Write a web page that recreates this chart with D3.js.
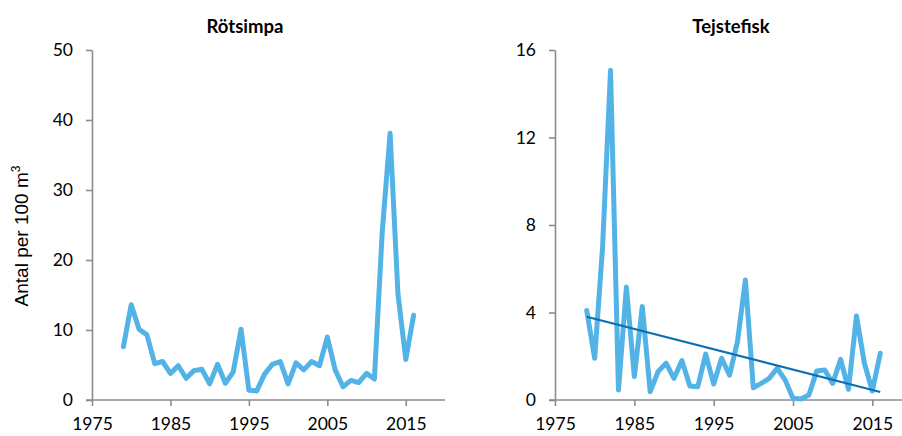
<!DOCTYPE html>
<html>
<head>
<meta charset="utf-8">
<script src="https://cdn.jsdelivr.net/npm/d3@7"></script>
<style>
  html, body { margin: 0; padding: 0; background: #fff; }
  svg { display: block; }
  .tick text { font-family: Lato, "Open Sans", sans-serif; font-size: 17.5px; fill: #000; }
  .title { font-family: Lato, "Open Sans", sans-serif; font-size: 18.5px; font-weight: bold; }
</style>
</head>
<body>
<svg id="chart" width="902" height="436"></svg>
<script>
// Survey years
const years = d3.range(1979, 2017);

// Rötsimpa, individuals per 100 m³
const rotsimpa = [7.6, 13.6, 10.1, 9.3, 5.2, 5.5, 3.8, 4.9, 3.1, 4.2,
  4.4, 2.3, 5.1, 2.4, 4.0, 10.1, 1.4, 1.3, 3.7, 5.1,
  5.5, 2.3, 5.3, 4.3, 5.5, 4.9, 9.0, 4.3, 1.9, 2.8,
  2.5, 3.8, 3.0, 24.0, 38.1, 15.2, 5.8, 12.1];

// Tejstefisk, individuals per 100 m³
const tejstefisk = [4.09, 1.91, 7.0, 15.07, 0.46, 5.16, 1.07, 4.27, 0.38, 1.30,
  1.68, 0.99, 1.80, 0.64, 0.61, 2.1, 0.73, 1.91, 1.14, 2.67,
  5.49, 0.56, 0.76, 0.99, 1.45, 0.92, 0.08, 0.05, 0.23, 1.33,
  1.37, 0.76, 1.86, 0.49, 3.84, 1.68, 0.41, 2.14];

// Axis ticks
const xTicks = [1975, 1985, 1995, 2005, 2015];
const yTicksRot = [0, 10, 20, 30, 40, 50];
const yTicksTej = [0, 4, 8, 12, 16];

const svg = d3.select("#chart");
const lineColor = "#53b3e7";
const trendColor = "#0a6fb2";
const axisColor = "#8c8c8c";

function drawPanel(opts) {
  const x = d3.scaleLinear().domain([1975, 2020]).range([opts.left, opts.right]);
  const y = d3.scaleLinear().domain([0, opts.yMax]).range([400, 50]);
  const g = svg.append("g");

  const xAxis = g.append("g")
    .attr("transform", "translate(0,400)")
    .call(d3.axisBottom(x).tickValues(xTicks).tickFormat(d3.format("d"))
      .tickSize(6).tickSizeOuter(0).tickPadding(12));
  const yAxis = g.append("g")
    .attr("transform", `translate(${opts.left},0)`)
    .call(d3.axisLeft(y).tickValues(opts.yTicks).tickSize(6).tickSizeOuter(0).tickPadding(13));

  [xAxis, yAxis].forEach(a => {
    a.select(".domain").attr("stroke", axisColor).attr("stroke-width", 1.6);
    a.selectAll(".tick line").attr("stroke", axisColor).attr("stroke-width", 1.6);
  });
  // let the bottom axis start under the zero tick
  xAxis.select(".domain").attr("d", `M${opts.left - 6},0H${opts.right}`);

  const line = d3.line().x((d, i) => x(years[i])).y(d => y(d));
  g.append("path")
    .datum(opts.values)
    .attr("d", line)
    .attr("fill", "none")
    .attr("stroke", lineColor)
    .attr("stroke-width", 5)
    .attr("stroke-linejoin", "round")
    .attr("stroke-linecap", "round");

  if (opts.trend) {
    // least-squares linear trend over the survey years
    const n = years.length;
    const mx = d3.mean(years), my = d3.mean(opts.values);
    const sxy = d3.sum(years, (yr, i) => (yr - mx) * (opts.values[i] - my));
    const sxx = d3.sum(years, yr => (yr - mx) * (yr - mx));
    const slope = sxy / sxx, icpt = my - slope * mx;
    const ends = [years[0], years[n - 1]];
    g.append("line")
      .attr("x1", x(ends[0])).attr("y1", y(icpt + slope * ends[0]))
      .attr("x2", x(ends[1])).attr("y2", y(icpt + slope * ends[1]))
      .attr("stroke", trendColor)
      .attr("stroke-width", 2);
  }

  g.append("text")
    .attr("class", "title")
    .attr("x", opts.titleX)
    .attr("y", 33)
    .attr("text-anchor", "middle")
    .text(opts.title);
}

drawPanel({ left: 92, right: 445, yMax: 50, yTicks: yTicksRot, values: rotsimpa,
  title: "Rötsimpa", titleX: 245, trend: false });
drawPanel({ left: 555, right: 912, yMax: 16, yTicks: yTicksTej, values: tejstefisk,
  title: "Tejstefisk", titleX: 731, trend: true });

// shared y-axis label
const yl = svg.append("text")
  .attr("transform", "translate(28,236) rotate(-90)")
  .attr("text-anchor", "middle")
  .attr("font-family", "Liberation Sans, Arial, sans-serif")
  .attr("font-size", 19)
  .attr("fill", "#000");
yl.append("tspan").text("Antal per 100 m");
yl.append("tspan").attr("dy", -8).attr("font-size", 12).text("3");
</script>
</body>
</html>
